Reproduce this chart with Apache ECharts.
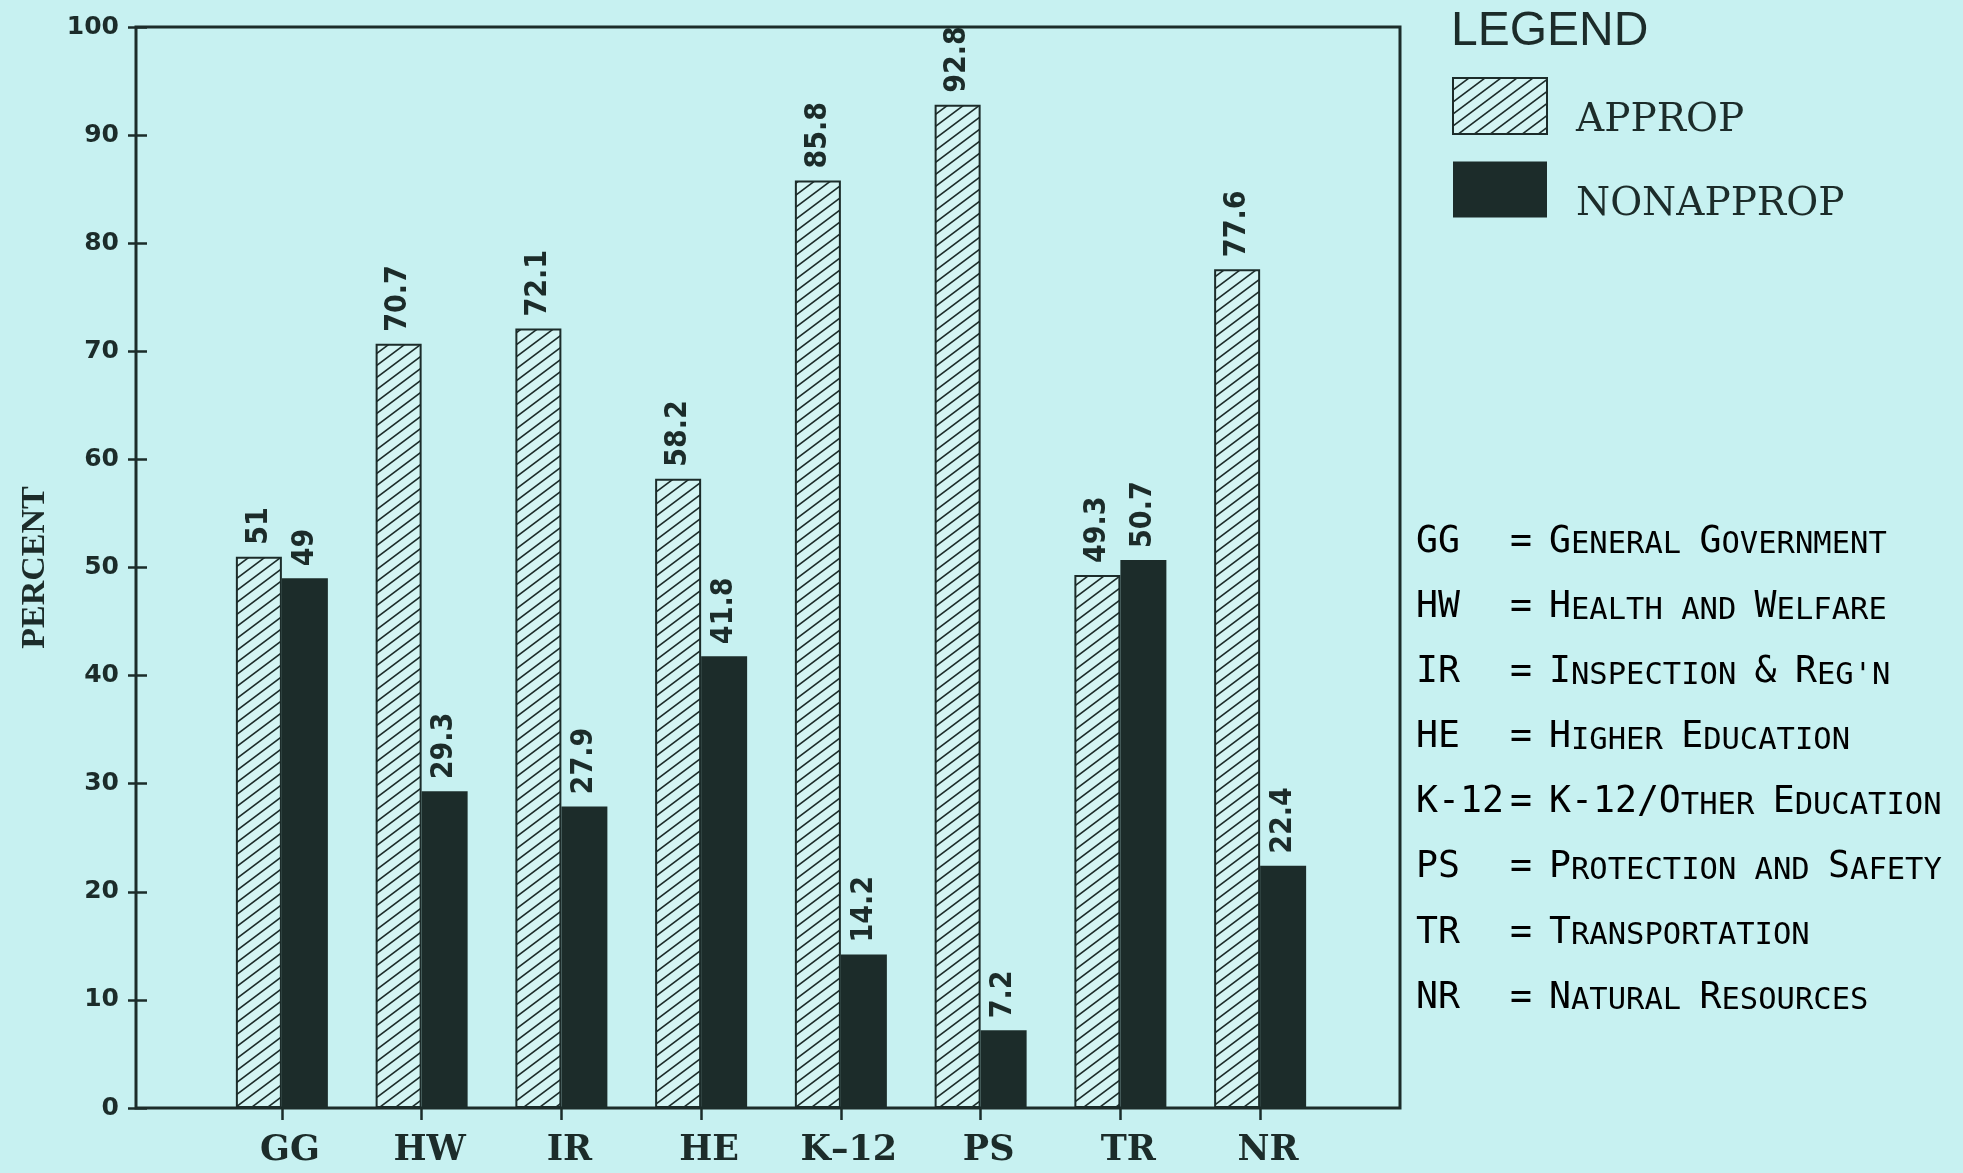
<!DOCTYPE html>
<html>
<head>
<meta charset="utf-8">
<title>Appropriated vs Non-appropriated Funds by Function</title>
<script src="https://cdn.jsdelivr.net/npm/echarts@6/dist/echarts.min.js"></script>
<style>
  html, body { margin: 0; padding: 0; background: #c7f1f1; }
  #chart { width: 1963px; height: 1173px; }
</style>
</head>
<body>
<div id="chart"></div>
<script>
// ---- data ----
const categories = ['GG', 'HW', 'IR', 'HE', 'K-12', 'PS', 'TR', 'NR'];
const appropValues = [51, 70.7, 72.1, 58.2, 85.8, 92.8, 49.3, 77.6];
const nonappropValues = [49, 29.3, 27.9, 41.8, 14.2, 7.2, 50.7, 22.4];
const seriesNames = ['APPROP', 'NONAPPROP'];
const yMin = 0, yMax = 100, yStep = 10;
const abbreviations = ['GG', 'HW', 'IR', 'HE', 'K-12', 'PS', 'TR', 'NR'];
const fullNames = [
  'General Government',
  'Health and Welfare',
  "Inspection & Reg'n",
  'Higher Education',
  'K-12/Other Education',
  'Protection and Safety',
  'Transportation',
  'Natural Resources'
];

// ---- styles ----
const INK = '#1c2c2a';
const PAPER = '#c7f1f1';
const HATCH_BG = '#d4f5f4';

// diagonal hatch tile for the appropriated bars
function hatchPattern() {
  const w = 16, h = 12;
  const c = document.createElement('canvas');
  c.width = w; c.height = h;
  const g = c.getContext('2d');
  g.fillStyle = HATCH_BG;
  g.fillRect(0, 0, w, h);
  g.strokeStyle = INK;
  g.lineWidth = 1.6;
  for (let k = -1; k <= 1; k++) {
    g.beginPath();
    g.moveTo(-w, 2 * h + k * h);
    g.lineTo(2 * w, -h + k * h);
    g.stroke();
  }
  return { image: c, repeat: 'repeat' };
}

// "Small caps" rich text: lowercase letters set smaller in upper case
function smallCaps(str) {
  let out = '';
  let cur = null, buf = '';
  const flush = () => { if (buf) out += '{' + cur + '|' + buf + '}'; buf = ''; };
  for (const ch of str) {
    const isSmall = /[a-z' ]/.test(ch);
    const st = isSmall ? 's' : 'b';
    if (st !== cur) { flush(); cur = st; }
    buf += ch.toUpperCase();
  }
  flush();
  return out;
}

const MONO = "'DejaVu Sans Mono', 'Liberation Mono', monospace";
const defRich = {
  b: { fontFamily: MONO, fontSize: 36.5, color: INK, lineHeight: 46, verticalAlign: 'bottom' },
  s: { fontFamily: MONO, fontSize: 30.5, color: INK, lineHeight: 46, verticalAlign: 'bottom' }
};

const defRowTop = 538, defRowStep = 65.1;
const definitionText = [];
abbreviations.forEach((ab, i) => {
  const y = defRowTop + i * defRowStep;
  definitionText.push({
    type: 'text', x: 1416, y: y,
    style: { text: '{b|' + ab + '}', rich: defRich, verticalAlign: 'middle', textVerticalAlign: 'middle' }
  });
  definitionText.push({
    type: 'text', x: 1510, y: y,
    style: { text: '{b|=}', rich: defRich, verticalAlign: 'middle', textVerticalAlign: 'middle' }
  });
  definitionText.push({
    type: 'text', x: 1549, y: y,
    style: { text: smallCaps(fullNames[i]), rich: defRich, verticalAlign: 'middle', textVerticalAlign: 'middle' }
  });
});

const chart = echarts.init(document.getElementById('chart'), null, { renderer: 'canvas' });

const valueLabel = {
  show: true,
  position: 'top',
  rotate: 90,
  align: 'left',
  verticalAlign: 'middle',
  distance: 12,
  fontFamily: "'Liberation Sans Narrow', 'DejaVu Sans Condensed', 'Roboto Condensed', 'Liberation Sans', sans-serif",
  fontWeight: 'bold',
  fontSize: 30,
  color: INK
};

const plotTop = 27, plotBottom = 65;
const SERIF = "'DejaVu Serif', 'Liberation Serif', serif";

chart.setOption({
  backgroundColor: PAPER,
  animation: false,
  title: {
    text: 'LEGEND',
    left: 1446, top: 3,
    textStyle: { fontFamily: "'Liberation Sans', Arial, sans-serif", fontWeight: 'normal', fontSize: 48, color: INK }
  },
  legend: {
    data: seriesNames,
    orient: 'vertical',
    left: 1447, top: 72,
    itemWidth: 94, itemHeight: 56,
    itemGap: 21,
    icon: 'rect',
    formatter: '{t|{name}}',
    textStyle: {
      fontFamily: SERIF, fontSize: 39, color: INK,
      rich: {
        t: { fontFamily: SERIF, fontSize: 39, color: INK, padding: [30, 0, 0, 24] }
      }
    }
  },
  grid: [
    // outer frame with the percent scale
    { left: 136, right: 563, top: plotTop, bottom: plotBottom, show: true,
      borderColor: INK, borderWidth: 3, backgroundColor: 'transparent' },
    // bar area
    { left: 212, right: 633, top: plotTop, bottom: plotBottom }
  ],
  xAxis: [
    { type: 'value', gridIndex: 0, min: 0, max: 1, show: false },
    {
      type: 'category', gridIndex: 1, data: categories,
      axisLine: { show: false },
      axisTick: { show: true, alignWithLabel: true, length: 12, lineStyle: { color: INK, width: 2.5 } },
      axisLabel: {
        margin: 25,
        padding: [0, 0, 0, 16],
        fontFamily: SERIF,
        fontWeight: 'bold', fontSize: 35, color: INK,
        formatter: v => v.replace('-', '\u2013')
      }
    }
  ],
  yAxis: [
    {
      type: 'value', gridIndex: 0, min: yMin, max: yMax, interval: yStep,
      name: 'PERCENT', nameLocation: 'middle', nameRotate: 90, nameGap: 84,
      nameTextStyle: { fontFamily: "'Liberation Serif', 'DejaVu Serif', serif", fontWeight: 'bold', fontSize: 34, color: INK },
      axisLine: { show: false },
      splitLine: { show: false },
      axisTick: { show: true, length: 8, lineStyle: { color: INK, width: 2.5 } },
      axisLabel: { margin: 17, fontFamily: "'DejaVu Sans', Verdana, sans-serif", fontWeight: 'bold', fontSize: 25, color: INK }
    },
    {
      // inner half of the crossing tick marks
      type: 'value', gridIndex: 0, min: yMin, max: yMax, interval: yStep, position: 'left',
      axisLine: { show: false }, splitLine: { show: false }, axisLabel: { show: false },
      axisTick: { show: true, inside: true, length: 11, lineStyle: { color: INK, width: 2.5 } }
    },
    { type: 'value', gridIndex: 1, min: yMin, max: yMax, show: false }
  ],
  series: [
    {
      name: seriesNames[0], type: 'bar', xAxisIndex: 1, yAxisIndex: 2,
      data: appropValues, barWidth: 46, barGap: '0%',
      itemStyle: { color: hatchPattern(), borderColor: INK, borderWidth: 2 },
      label: valueLabel
    },
    {
      name: seriesNames[1], type: 'bar', xAxisIndex: 1, yAxisIndex: 2,
      data: nonappropValues, barWidth: 46, barGap: '0%',
      itemStyle: { color: INK },
      label: valueLabel
    }
  ],
  graphic: definitionText
});
</script>
</body>
</html>
